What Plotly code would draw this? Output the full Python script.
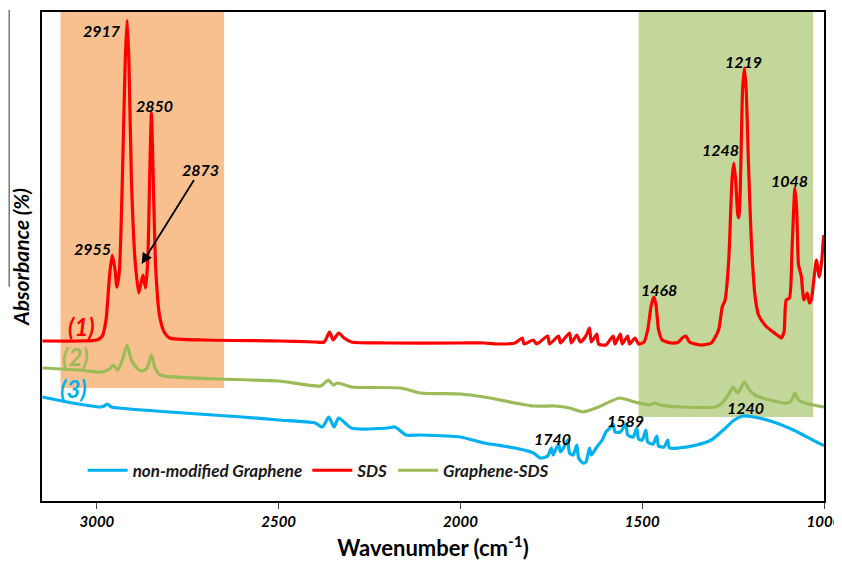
import plotly.graph_objects as go

# ---------------- data (arbitrary absorbance units) ----------------
sds_x = [3150, 3050, 3000, 2985, 2975, 2965, 2958, 2950, 2945, 2938, 2930, 2922, 2917, 2912, 2905,
         2895, 2885, 2878, 2873, 2866, 2860, 2855, 2850, 2845, 2838, 2828, 2815, 2800, 2700, 2500,
         2400, 2375, 2360, 2350, 2335, 2320, 2300, 2200, 2000, 1935, 1900, 1850, 1830, 1825, 1800,
         1790, 1760, 1755, 1730, 1725, 1700, 1695, 1680, 1670, 1655, 1645, 1640, 1625, 1620, 1600,
         1580, 1575, 1560, 1555, 1540, 1535, 1520, 1510, 1495, 1485, 1475, 1468, 1462, 1455, 1445,
         1420, 1400, 1390, 1380, 1370, 1340, 1310, 1290, 1280, 1272, 1262, 1253, 1248, 1243, 1237,
         1234, 1229, 1224, 1219, 1214, 1208, 1200, 1190, 1180, 1160, 1140, 1125, 1118, 1110, 1104,
         1095, 1088, 1080, 1075, 1070, 1063, 1055, 1046, 1040, 1035, 1028, 1021, 1013, 1006, 1002, 1000]
sds_y = [32.0, 32.0, 32.2, 33.0, 36.2, 45.2, 49.2, 46.2, 42.8, 46.2, 64.2, 88.2, 96.2, 88.2, 64.2,
         48.2, 41.6, 43.8, 45.2, 42.6, 48.2, 64.2, 77.6, 64.2, 46.2, 37.2, 33.8, 32.6, 32.2, 32.0,
         31.8, 31.8, 33.8, 32.2, 33.6, 32.6, 31.8, 31.6, 31.6, 31.6, 31.4, 31.6, 32.6, 31.4, 32.2,
         31.4, 33.0, 31.4, 33.0, 31.6, 33.6, 31.6, 33.2, 31.8, 33.0, 34.6, 31.8, 33.4, 31.4, 31.2,
         33.0, 31.4, 33.4, 31.4, 33.0, 31.4, 32.6, 31.4, 31.8, 34.2, 39.2, 40.8, 39.2, 34.2, 32.2,
         31.6, 31.8, 32.6, 33.0, 31.8, 31.2, 31.6, 34.2, 38.8, 40.2, 48.2, 64.2, 67.6, 64.2, 57.2,
         56.6, 66.2, 82.2, 86.6, 82.2, 68.2, 52.2, 41.2, 37.2, 35.0, 33.8, 33.0, 32.6, 33.8, 40.2,
         40.6, 50.2, 62.6, 58.2, 47.2, 45.2, 40.2, 41.6, 39.6, 40.2, 44.2, 48.2, 44.8, 48.2, 52.2, 53.2]

gsds_x = [3150, 3050, 2985, 2965, 2955, 2942, 2930, 2917, 2905, 2890, 2875, 2862, 2850, 2840, 2826,
          2660, 2500, 2385, 2363, 2350, 2338, 2300, 2165, 2110, 2000, 1935, 1800, 1740, 1700, 1663,
          1620, 1563, 1520, 1480, 1465, 1450, 1391, 1300, 1280, 1260, 1250, 1237, 1219, 1205, 1190,
          1150, 1100, 1088, 1080, 1070, 1060, 1030, 1000]
gsds_y = [26.6, 26.2, 25.8, 26.4, 27.2, 26.2, 28.2, 31.2, 28.2, 26.6, 26.0, 26.6, 29.2, 26.6, 25.2,
          24.4, 24.0, 23.0, 24.2, 23.2, 23.6, 22.8, 22.6, 21.6, 21.4, 20.8, 19.0, 19.0, 18.6, 17.8,
          18.8, 20.6, 19.8, 19.2, 19.6, 19.2, 18.8, 18.8, 19.6, 21.6, 22.8, 21.6, 23.8, 22.2, 21.2,
          20.2, 19.6, 20.2, 21.6, 20.2, 19.8, 19.2, 18.8]

gra_x = [3150, 3082, 2990, 2980, 2972, 2960, 2940, 2800, 2600, 2500, 2400, 2380, 2362, 2348, 2335,
         2300, 2200, 2180, 2150, 2110, 2000, 1935, 1850, 1799, 1780, 1760, 1750, 1745, 1740, 1730,
         1725, 1715, 1705, 1700, 1690, 1680, 1675, 1663, 1655, 1645, 1640, 1625, 1610, 1600, 1589,
         1580, 1575, 1560, 1545, 1540, 1525, 1515, 1510, 1500, 1490, 1485, 1470, 1460, 1455, 1440,
         1430, 1425, 1400, 1350, 1310, 1277, 1247, 1223, 1193, 1139, 1084, 1003, 1000]
gra_y = [20.8, 19.8, 18.8, 19.0, 19.4, 18.8, 18.6, 17.8, 16.8, 16.2, 15.6, 14.8, 16.8, 14.8, 16.6,
         14.6, 14.6, 14.8, 13.2, 13.2, 12.8, 11.6, 10.6, 9.6, 8.6, 9.0, 10.6, 9.2, 10.0, 11.4,
         9.8, 10.8, 12.2, 9.6, 9.2, 11.2, 8.6, 7.6, 7.8, 10.6, 9.2, 10.8, 12.2, 13.8, 14.6,
         15.4, 13.8, 13.8, 15.4, 13.2, 12.8, 14.6, 12.4, 12.2, 14.2, 11.8, 11.4, 13.0, 11.0, 10.8,
         12.2, 10.6, 10.6, 11.2, 12.2, 14.2, 16.2, 17.0, 16.8, 15.8, 14.2, 11.2, 11.2]

tick_vals = [3000, 2500, 2000, 1500, 1000]
tick_text = ["3000", "2500", "2000", "1500", "1000"]

peak_labels = ["2917", "2850", "2955", "1468", "1248", "1219", "1048", "1740", "1589", "1240"]
peak_label_x = [2986, 2842, 3011, 1455, 1286, 1222, 1096, 1748, 1547, 1217]
peak_label_y = [94.2, 79.2, 50.6, 42.4, 70.4, 88.0, 64.2, 12.6, 16.2, 18.8]

curve_tags = ["(1)", "(2)", "(3)"]
curve_tag_x = [3041, 3060, 3064]
curve_tag_y = [35.0, 29.0, 22.6]

RED = "#FF0000"
GREEN = "#9BBB59"
BLUE = "#00B0F0"
FONT = "Lato"

fig = go.Figure()
for xs, ys, nm, col in [(gra_x, gra_y, "non-modified Graphene", BLUE),
                        (sds_x, sds_y, "SDS", RED),
                        (gsds_x, gsds_y, "Graphene-SDS", GREEN)]:
    fig.add_trace(go.Scatter(x=xs, y=ys, mode="lines", name=nm,
                             line=dict(color=col, width=3.2, shape="spline", smoothing=0.6)))

# shaded regions
fig.add_shape(type="rect", xref="x", yref="y", x0=3100, x1=2650, y0=22.6, y1=97.8,
              fillcolor="#F8C08F", line=dict(width=0), layer="below")
fig.add_shape(type="rect", xref="x", yref="y", x0=1510, x1=1030, y0=16.8, y1=97.8,
              fillcolor="#C4D79B", line=dict(width=0), layer="below")
# thin stray line on the left of the y title
fig.add_shape(type="line", xref="paper", yref="paper", x0=-0.042, x1=-0.042, y0=1.004, y1=0.438,
              line=dict(color="#333333", width=1))

num_font = dict(family=FONT, size=16, color="black", weight="bold", style="italic")
for t, x, y in zip(peak_labels, peak_label_x, peak_label_y):
    fig.add_annotation(x=x, y=y, xref="x", yref="y", text=t, showarrow=False, font=num_font)

fig.add_annotation(x=2877, y=47.4, xref="x", yref="y", ax=2714, ay=66.4, axref="x", ayref="y",
                   text="2873", showarrow=True, arrowhead=2, arrowsize=1.2, arrowwidth=1.8,
                   arrowcolor="black", font=num_font, standoff=0, startstandoff=0)

for t, x, y, c in zip(curve_tags, curve_tag_x, curve_tag_y, [RED, GREEN, BLUE]):
    fig.add_annotation(x=x, y=y, xref="x", yref="y", text=t, showarrow=False,
                       font=dict(family=FONT, size=24, color=c, style="italic", weight="bold"))

# the page body adds an 8px offset, so the figure is 8px smaller and margins shifted
fig.update_layout(
    width=834, height=558,
    margin=dict(l=34, r=18, t=4, b=65, autoexpand=False),
    paper_bgcolor="white", plot_bgcolor="white",
    showlegend=True,
    legend=dict(orientation="h", x=0.052, y=0.062, xanchor="left", yanchor="middle",
                font=dict(family=FONT, size=17, color="#1a1a1a", weight="bold", style="italic"),
                bgcolor="rgba(0,0,0,0)", itemwidth=40, traceorder="normal"),
    xaxis=dict(range=[3151, 1000], tickvals=tick_vals, ticktext=tick_text, automargin=False,
               ticklabeloverflow="allow",
               ticks="outside", ticklen=6, tickcolor="#444", showgrid=False, zeroline=False,
               showline=True, linecolor="black", linewidth=2, mirror=True,
               tickfont=dict(family=FONT, size=15, color="black", weight="bold", style="italic"),
               title=dict(text="Wavenumber (cm<sup>-1</sup>)", standoff=12,
                          font=dict(family=FONT, size=22, color="black", weight="bold"))),
    yaxis=dict(range=[0, 97.8], showticklabels=False, ticks="", showgrid=False, zeroline=False,
               automargin=False, showline=True, linecolor="black", linewidth=2, mirror=True,
               title=dict(text="Absorbance (%)", standoff=12,
                          font=dict(family=FONT, size=21, color="black", weight="bold",
                                    style="italic"))),
)

fig.write_html("out.html")
